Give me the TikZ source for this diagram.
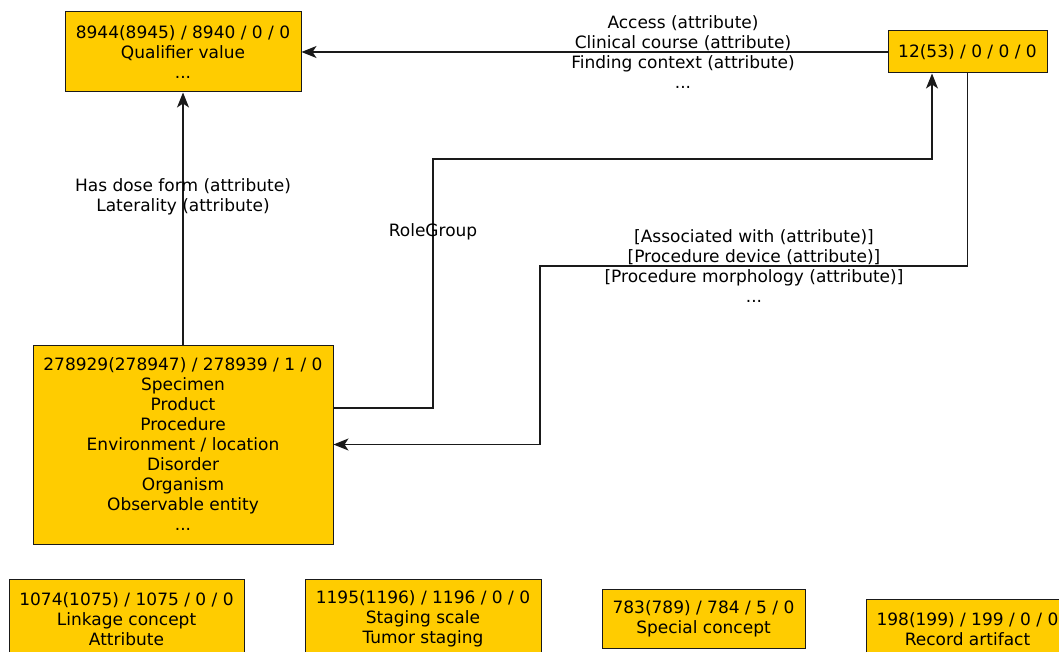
\documentclass[tikz,border=0pt]{standalone}
\usepackage{fontspec}
\setmainfont{DejaVu Sans}
\usetikzlibrary{arrows.meta}
\definecolor{boxfill}{HTML}{FFCC00}
\definecolor{edgeline}{HTML}{1A1A1A}
\tikzset{
  concept/.style={draw=edgeline, fill=boxfill, line width=1pt, rectangle,
    align=center, inner sep=0pt, font=\fontsize{17}{20}\selectfont},
  rel/.style={draw=edgeline, line width=1.2pt,
    -{Stealth[length=15pt, width=12pt, inset=4pt]}},
  rellabel/.style={align=center, inner sep=0pt, font=\fontsize{17}{20}\selectfont}
}
\begin{document}
\begin{tikzpicture}[x=1pt, y=-1pt]
  \useasboundingbox (0,0) rectangle (1059,652);
  \clip (0,0) rectangle (1059,652);

  % concepts
  \node[concept, minimum width=236pt, minimum height=80pt] (qual) at (183,52)
    {8944(8945) / 8940 / 0 / 0\\Qualifier value\\...};
  \node[concept, minimum width=159pt, minimum height=42pt] (grp) at (967.5,52)
    {12(53) / 0 / 0 / 0};
  \node[concept, minimum width=300pt, minimum height=199pt] (main) at (183,444.5)
    {278929(278947) / 278939 / 1 / 0\\Specimen\\Product\\Procedure\\Environment / location\\Disorder\\Organism\\Observable entity\\...};
  \node[concept, minimum width=235pt, minimum height=80pt] (link) at (126.5,619)
    {1074(1075) / 1075 / 0 / 0\\Linkage concept\\Attribute};
  \node[concept, minimum width=236pt, minimum height=80pt] (stage) at (423,619)
    {1195(1196) / 1196 / 0 / 0\\Staging scale\\Tumor staging};
  \node[concept, minimum width=203pt, minimum height=59pt] (special) at (703.5,618.5)
    {783(789) / 784 / 5 / 0\\Special concept};
  \node[concept, minimum width=202pt, minimum height=60pt] (record) at (967.5,629)
    {198(199) / 199 / 0 / 0\\Record artifact};

  % relationships
  \draw[rel] (grp.west) -- (qual.east);
  \node[rellabel] (lblqual) at (683,52.5)
    {Access (attribute)\\Clinical course (attribute)\\Finding context (attribute)\\...};

  \draw[rel] (main.north) -- (qual.south);
  \node[rellabel] (lbldose) at (183,197)
    {Has dose form (attribute)\\Laterality (attribute)};

  \draw[rel] ([yshift=36.5pt]main.east) -| (433,159) -| ([xshift=-35.5pt]grp.south);
  \node[rellabel] (lblrole) at (433,232) {RoleGroup};

  \draw[rel] (grp.south) |- (540,266) |- (main.east);
  \node[rellabel] (lblproc) at (754,266.5)
    {{[Associated with (attribute)]}\\{[Procedure device (attribute)]}\\{[Procedure morphology (attribute)]}\\...};
\end{tikzpicture}
\end{document}
